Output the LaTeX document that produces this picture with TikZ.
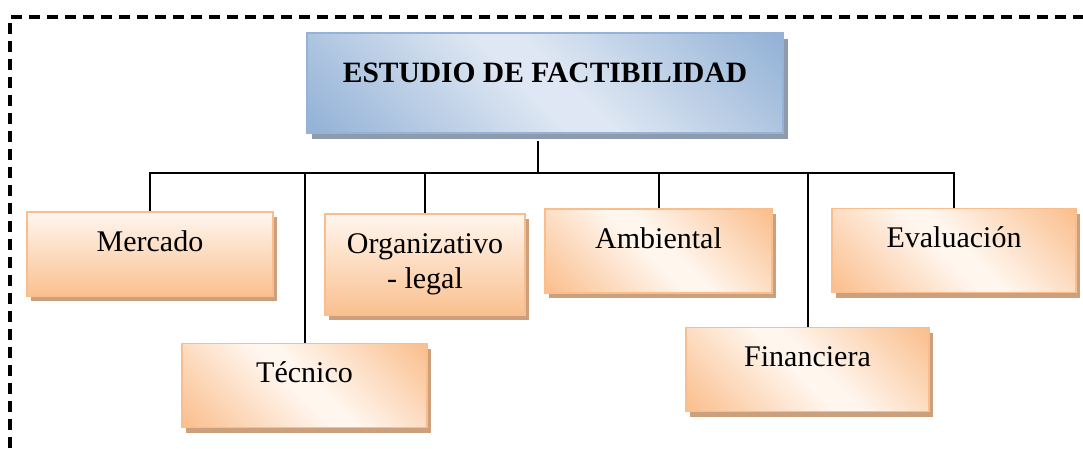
\documentclass[tikz,border=0pt]{standalone}
\usepackage{fontspec}
\setmainfont{Liberation Serif}
\usepackage{tikz}
\usetikzlibrary{shapes,arrows,shadows}
\definecolor{naranja}{RGB}{250,192,144}
\definecolor{crema}{RGB}{255,246,238}
\definecolor{bordenar}{RGB}{250,190,140}
\definecolor{sombranar}{RGB}{204,160,124}
\definecolor{azul}{RGB}{149,179,215}
\definecolor{celeste}{RGB}{222,231,243}
\definecolor{sombraazul}{RGB}{142,155,172}
\pgfdeclareverticalshading{cruce}{100bp}{color(0bp)=(naranja); color(16bp)=(naranja);
  color(47bp)=(crema); color(53bp)=(crema); color(84bp)=(naranja); color(100bp)=(naranja)}
\pgfdeclareverticalshading{cruceazul}{100bp}{color(0bp)=(azul); color(16bp)=(azul);
  color(47bp)=(celeste); color(53bp)=(celeste); color(84bp)=(azul); color(100bp)=(azul)}
\tikzstyle{caja} = [rectangle, draw=bordenar, line width=1.5pt, inner sep=0pt, align=center,
  font=\fontsize{30}{35}\selectfont,
  drop shadow={shadow xshift=4pt, shadow yshift=-5pt, fill=sombranar, opacity=1}]
\tikzstyle{rama} = [caja, text height=39pt, text depth=45pt]
\tikzstyle{plano} = [top color=crema, bottom color=naranja]
\tikzstyle{cruzado} = [shading=cruce, shading angle=-45]
\tikzstyle{linea} = [draw, line width=2pt]

\begin{document}
\begin{tikzpicture}[x=1pt, y=-1pt]
\useasboundingbox (0,0) rectangle (1083,448);
% marco punteado
\draw [line width=3.5pt, dash pattern=on 11pt off 7pt] (10,448) -- (10,17) -- (1083,17);

\node [rectangle, draw=azul, line width=1.5pt, inner sep=0pt, minimum width=476pt,
  text height=49pt, text depth=51pt, shading=cruceazul, shading angle=-45,
  font=\fontsize{29.5}{36}\selectfont\bfseries,
  drop shadow={shadow xshift=5pt, shadow yshift=-6pt, fill=sombraazul, opacity=1}]
  at (545, 83) (titulo) {ESTUDIO DE FACTIBILIDAD};

\node [rama, plano, minimum width=246pt] at (150, 254) (mercado) {Mercado};
\node [rama, cruzado, minimum width=245pt] at (304.5, 385.5) (tecnico) {Técnico};
\node [caja, plano, minimum width=200pt, minimum height=101pt] at (425, 264.5) (organizativo) {Organizativo\\- legal};
\node [rama, cruzado, minimum width=227pt] at (658.5, 251) (ambiental) {Ambiental};
\node [rama, cruzado, minimum width=243pt] at (807.5, 369.5) (financiera) {Financiera};
\node [rama, cruzado, minimum width=244pt] at (954, 250.5) (evaluacion) {Evaluación};

\coordinate (barra) at (538, 173);
\path [linea] ([xshift=-7pt, yshift=-7pt]titulo.south) -- (barra);
\path [linea] (barra) -| (mercado.north);
\path [linea] (barra) -| (tecnico.north);
\path [linea] (barra) -| (organizativo.north);
\path [linea] (barra) -| (ambiental.north);
\path [linea] (barra) -| (financiera.north);
\path [linea] (barra) -| (evaluacion.north);
\end{tikzpicture}
\end{document}
